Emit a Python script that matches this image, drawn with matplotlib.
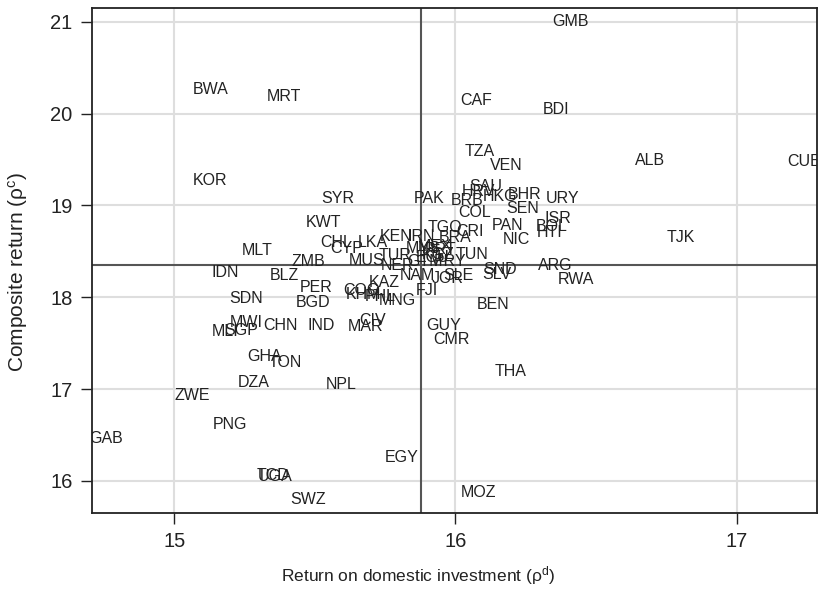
import matplotlib
matplotlib.use("Agg")
import matplotlib.pyplot as plt

plt.rcParams['font.family'] = ['Liberation Sans', 'DejaVu Sans']
plt.rcParams['mathtext.fontset'] = 'custom'
plt.rcParams['mathtext.rm'] = 'Liberation Sans'
plt.rcParams['mathtext.it'] = 'Liberation Sans'

countries = ["GMB", "BWA", "MRT", "CAF", "BDI", "KOR", "TZA", "VEN", "ALB", "CUB",
             "SYR", "PAK", "SAU", "HRV", "HKG", "BHR", "BRB", "URY", "COL", "SEN",
             "ISR", "BOL", "HTI", "PAN", "NIC", "CRI", "TGO", "BRA", "TJK", "KWT",
             "CHL", "LKA", "CYP", "KEN", "IRN", "MLT", "ZMB", "MUS", "TUR", "NER",
             "TUN", "IDN", "BLZ", "ARG", "RWA", "SLV", "SND", "PER", "KAZ", "COG",
             "KHM", "PHL", "MNG", "FJI", "JOR", "SLE", "NAM", "BGD", "SDN", "BEN",
             "GUY", "CMR", "MWI", "MLI", "SGP", "CHN", "IND", "MAR", "CIV", "GHA",
             "TON", "DZA", "NPL", "ZWE", "THA", "PNG", "GAB", "EGY", "UGA", "TCD",
             "SWZ", "MOZ", "MYS", "MEX", "PRT", "ECU", "GTM", "PRY", "KGZ"]

rho_d = [16.409, 15.128, 15.391, 16.075, 16.356, 15.128, 16.085, 16.181, 16.690, 17.238,
         15.580, 15.907, 16.107, 16.082, 16.157, 16.246, 16.043, 16.381, 16.068, 16.238,
         16.363, 16.342, 16.335, 16.185, 16.217, 16.050, 15.961, 16.000, 16.801, 15.530,
         15.577, 15.705, 15.612, 15.790, 15.879, 15.295, 15.477, 15.683, 15.786, 15.794,
         16.057, 15.181, 15.391, 16.356, 16.427, 16.146, 16.157, 15.505, 15.747, 15.665,
         15.673, 15.733, 15.794, 15.900, 15.972, 16.011, 15.865, 15.495, 15.256, 16.135,
         15.957, 15.986, 15.256, 15.181, 15.238, 15.377, 15.523, 15.680, 15.705, 15.320,
         15.395, 15.281, 15.594, 15.064, 16.196, 15.199, 14.758, 15.808, 15.359, 15.352,
         15.477, 16.082, 15.886, 15.929, 15.947, 15.918, 15.893, 15.982, 15.940]

rho_c = [21.008, 20.258, 20.182, 20.138, 20.040, 19.268, 19.584, 19.432, 19.486, 19.475,
         19.073, 19.073, 19.203, 19.149, 19.095, 19.116, 19.051, 19.073, 18.921, 18.964,
         18.855, 18.768, 18.703, 18.779, 18.627, 18.714, 18.758, 18.649, 18.649, 18.812,
         18.595, 18.595, 18.529, 18.660, 18.660, 18.508, 18.388, 18.399, 18.453, 18.345,
         18.464, 18.269, 18.236, 18.345, 18.192, 18.247, 18.301, 18.105, 18.160, 18.073,
         18.029, 18.008, 17.964, 18.073, 18.203, 18.236, 18.236, 17.942, 17.986, 17.921,
         17.692, 17.540, 17.725, 17.627, 17.638, 17.692, 17.692, 17.682, 17.747, 17.355,
         17.290, 17.073, 17.051, 16.932, 17.192, 16.616, 16.464, 16.258, 16.051, 16.056,
         15.801, 15.877, 18.529, 18.551, 18.518, 18.431, 18.388, 18.388, 18.464]

mean_d = 15.878
mean_c = 18.348
x_ticks = [15, 16, 17]
y_ticks = [16, 17, 18, 19, 20, 21]

fig = plt.figure(figsize=(8.19, 5.90), dpi=100)
ax = fig.add_axes([92/819, 77/590, 725/819, 505/590])

ax.set_xlim(14.708, 17.285)
ax.set_ylim(15.65, 21.15)
ax.set_xticks(x_ticks)
ax.set_yticks(y_ticks)
ax.grid(True, color='#dedede', linewidth=1.5, zorder=0)
ax.set_axisbelow(True)

ax.axvline(mean_d, color='#555555', linewidth=1.5, zorder=1)
ax.axhline(mean_c, color='#555555', linewidth=1.5, zorder=1)

for name, xd, yc in zip(countries, rho_d, rho_c):
    ax.text(xd, yc, name, ha='center', va='center', fontsize=11.5,
            color='#222222', zorder=3, clip_on=True)

for s in ax.spines.values():
    s.set_color('#222222')
    s.set_linewidth(1.3)

ax.tick_params(axis='both', direction='out', length=8, width=1.0,
               color='#222222', labelsize=14.5, labelcolor='#222222', pad=6)

ax.set_xlabel(r'Return on domestic investment (ρ$^{\mathrm{d}}$)', fontsize=12.5,
              color='#222222')
ax.xaxis.set_label_coords(0.45, -0.102)
ax.set_ylabel(r'Composite return (ρ$^{\mathrm{c}}$)', fontsize=15,
              color='#222222')
ax.yaxis.set_label_coords(-0.086, 0.478)

fig.savefig('out.png', dpi=100)
